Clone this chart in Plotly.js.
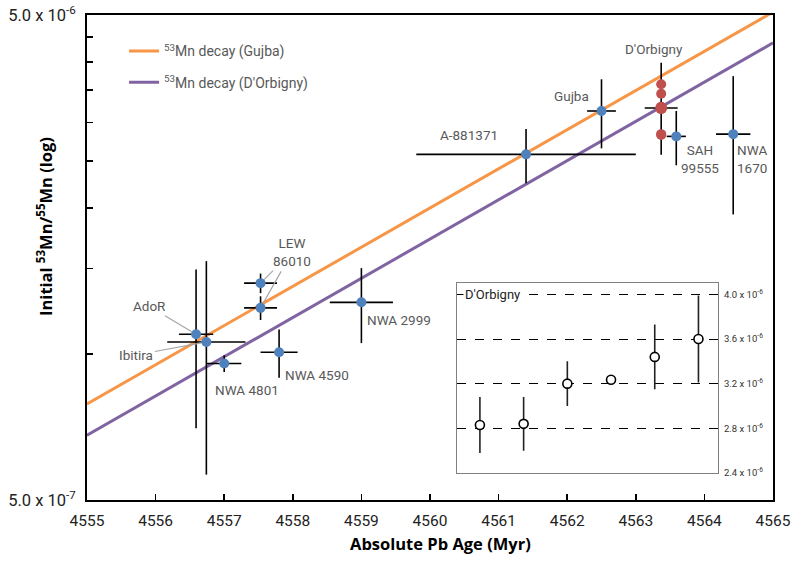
<!DOCTYPE html>
<html><head><meta charset="utf-8">
<script src="https://cdn.plot.ly/plotly-3.0.1.min.js"></script>
<style>html,body{margin:0;padding:0;background:#fff}#chart{width:800px;height:570px}</style>
</head><body><div id="chart"></div>
<script>
// ---- Decay lines (two end points; exponential = straight on a log axis)
const lineAges = [4555, 4565];
const gujbaDecay = [7.89e-7, 5.07e-6];
const dorbDecay = [6.80e-7, 4.38e-6];

// ---- Meteorites (blue points)
const names = ["A-881371", "Gujba", "SAH 99555", "NWA 1670", "LEW 86010", "LEW 86010", "AdoR", "Ibitira", "NWA 4801", "NWA 4590", "NWA 2999"];
const ages = [4561.40, 4562.50, 4563.59, 4564.42, 4557.53, 4557.53, 4556.59, 4556.74, 4557.00, 4557.80, 4559.00];
const ageErr = [1.60, 0.21, 0.14, 0.25, 0.24, 0.24, 0.25, 0.57, 0.25, 0.27, 0.46];
const ratios = [2.58e-6, 3.17e-6, 2.81e-6, 2.84e-6, 1.40e-6, 1.245e-6, 1.098e-6, 1.059e-6, 9.56e-7, 1.008e-6, 1.278e-6];
const ratioErr = [3.3e-7, 5.15e-7, 3.6e-7, 9.0e-7, 6.5e-8, 7e-8, 3.95e-7, 4.95e-7, 3.8e-8, 1.15e-7, 2.25e-7];

// ---- D'Orbigny
const dorbAge = 4563.37;
const dorbAgeErr = 0.24;
const dorbMean = 3.215e-6;
const dorbMeanErrPlus = 7.7e-7;
const dorbMeanErrMinus = 6.4e-7;
const dorbSample = [1, 2, 3, 4, 5, 6];
const dorbRatios = [2.83e-6, 2.84e-6, 3.20e-6, 3.235e-6, 3.44e-6, 3.60e-6];
const dorbRatioErr = [2.5e-7, 2.4e-7, 2.0e-7, 0, 2.9e-7, 3.9e-7];

// ---- Ticks
const xTickVals = [4555, 4556, 4557, 4558, 4559, 4560, 4561, 4562, 4563, 4564, 4565];
const yTickVals = [5e-7, 5e-6];
const yTickText = ["5.0 x 10<sup>-7</sup>", "5.0 x 10<sup>-6</sup>"];
const yMinorTickVals = [1e-6, 1.5e-6, 2e-6, 2.5e-6, 3e-6, 3.5e-6, 4e-6, 4.5e-6];
const insetTickVals = [2.4e-6, 2.8e-6, 3.2e-6, 3.6e-6, 4.0e-6];
const insetTickText = ["2.4 x 10<sup>-6</sup>", "2.8 x 10<sup>-6</sup>", "3.2 x 10<sup>-6</sup>", "3.6 x 10<sup>-6</sup>", "4.0 x 10<sup>-6</sup>"];

// ---- Label placement (pixel offsets from the point)
const labelCfg = [
  {i: 0, text: "A-881371", dx: -57, dy: 19},
  {i: 1, text: "Gujba", dx: -30, dy: 15},
  {i: 2, text: "SAH<br>99555", dx: 24, dy: -23},
  {i: 3, text: "NWA<br>1670", dx: 19, dy: -25},
  {i: 8, text: "NWA 4801", dx: 23, dy: -27},
  {i: 9, text: "NWA 4590", dx: 38, dy: -23},
  {i: 10, text: "NWA 2999", dx: 38, dy: -18}
];
const arrowCfg = [
  {i: 4, text: "LEW<br>86010", ax: 31, ay: -31, visible: true},
  {i: 5, text: "LEW<br>86010", ax: 31, ay: -55, visible: false},
  {i: 6, text: "AdoR", ax: -47, ay: -28, visible: true},
  {i: 7, text: "Ibitira", ax: -70, ay: 13, visible: true}
];

const FONT = "Roboto, 'Open Sans', sans-serif";
const TFONT = "'Open Sans', Roboto, sans-serif";
const labelColor = "#595959";
const LBL = 13.5;
const errStyle = {thickness: 1.6, width: 0, color: "#000"};

const traces = [
  {x: lineAges, y: gujbaDecay, mode: "lines", name: "<sup>53</sup>Mn decay (Gujba)",
   line: {color: "#F79646", width: 3}, legendgroup: "a", xaxis: "x", yaxis: "y"},
  {x: lineAges, y: dorbDecay, mode: "lines", name: "<sup>53</sup>Mn decay (D'Orbigny)",
   line: {color: "#8064A2", width: 3}, legendgroup: "b", xaxis: "x", yaxis: "y"},
  {x: ages, y: ratios, mode: "markers", showlegend: false,
   marker: {color: "#4F81BD", size: 10},
   error_x: Object.assign({type: "data", array: ageErr, symmetric: true}, errStyle),
   error_y: Object.assign({type: "data", array: ratioErr, symmetric: true}, errStyle),
   xaxis: "x", yaxis: "y"},
  {x: [dorbAge], y: [dorbMean], mode: "markers", showlegend: false,
   marker: {color: "#C0504D", size: 12},
   error_x: Object.assign({type: "data", array: [dorbAgeErr], symmetric: true}, errStyle),
   error_y: Object.assign({type: "data", array: [dorbMeanErrPlus], arrayminus: [dorbMeanErrMinus], symmetric: false}, errStyle),
   xaxis: "x", yaxis: "y"},
  {x: dorbRatios.map(() => dorbAge), y: dorbRatios, mode: "markers", showlegend: false,
   marker: {color: "#C0504D", size: 10}, xaxis: "x", yaxis: "y"},
  {x: dorbSample, y: dorbRatios, mode: "markers", showlegend: false,
   marker: {color: "#fff", size: 9, line: {color: "#000", width: 1.6}},
   error_y: Object.assign({type: "data", array: dorbRatioErr, symmetric: true}, {thickness: 1.6, width: 0, color: "#222"}),
   xaxis: "x2", yaxis: "y2"}
];

const annotations = [];
labelCfg.forEach(c => {
  annotations.push({x: ages[c.i], y: Math.log10(ratios[c.i]), xref: "x", yref: "y", text: c.text,
    showarrow: false, xshift: c.dx, yshift: c.dy, font: {family: FONT, size: LBL, color: labelColor}});
});
arrowCfg.forEach(c => {
  annotations.push({x: ages[c.i], y: Math.log10(ratios[c.i]), xref: "x", yref: "y", text: c.text,
    showarrow: true, arrowhead: 0, arrowwidth: 1.2, arrowcolor: "#a6a6a6", standoff: 5,
    ax: c.ax, ay: c.ay,
    font: {family: FONT, size: LBL, color: c.visible ? labelColor : "rgba(0,0,0,0)"}});
});
annotations.push({x: dorbAge, y: Math.log10(dorbMean), xref: "x", yref: "y", text: "D'Orbigny",
  showarrow: false, xshift: -7, yshift: 59, font: {family: FONT, size: LBL, color: labelColor}});
annotations.push({x: 0.025, xref: "x2 domain", y: insetTickVals[4], yref: "y2", text: "D'Orbigny",
  showarrow: false, xanchor: "left", yanchor: "middle", bgcolor: "#fff",
  font: {family: FONT, size: 13, color: "#222"}});
annotations.push({x: -0.0612, xref: "paper", y: 0.563, yref: "paper", textangle: -90,
  xanchor: "center", yanchor: "middle",
  text: "<b>Initial <sup>53</sup>Mn/<sup>55</sup>Mn (log)</b>", showarrow: false,
  font: {family: TFONT, size: 16.5, color: "#000"}});
annotations.push({x: 0.5146, xref: "paper", y: -0.0907, yref: "paper", xanchor: "center", yanchor: "middle",
  text: "<b>Absolute Pb Age (Myr)</b>", showarrow: false,
  font: {family: TFONT, size: 16.5, color: "#000"}});

const layout = {
  width: 800, height: 570,
  margin: {l: 87, r: 27, t: 15, b: 70},
  paper_bgcolor: "#fff", plot_bgcolor: "#fff",
  font: {family: FONT, color: "#222"},
  showlegend: true,
  legend: {x: 0.054, y: 0.958, xanchor: "left", yanchor: "top", bgcolor: "rgba(0,0,0,0)",
    font: {family: FONT, size: 14, color: labelColor}, traceorder: "grouped", tracegroupgap: 10,
    itemwidth: 30},
  xaxis: {range: [4555, 4565], tickvals: xTickVals, ticks: "inside", ticklen: 6, tickwidth: 1.5,
    tickcolor: "#000", showline: true, linecolor: "#000", linewidth: 2, mirror: true,
    showgrid: false, zeroline: false, tickfont: {family: FONT, size: 15.5, color: "#222"},
    ticklabelstandoff: 5},
  yaxis: {type: "log", range: [Math.log10(5e-7), Math.log10(5e-6)], tickvals: yTickVals, ticktext: yTickText,
    ticks: "inside", ticklen: 6, tickwidth: 1.5, tickcolor: "#000", showline: true, linecolor: "#000",
    linewidth: 2, mirror: true, showgrid: false, zeroline: false,
    minor: {tickmode: "array", tickvals: yMinorTickVals, ticks: "inside", ticklen: 6, tickwidth: 1.5, tickcolor: "#000", showgrid: false},
    tickfont: {family: FONT, size: 16.5, color: "#222"}, ticklabelstandoff: 6},
  xaxis2: {domain: [0.539, 0.920], anchor: "y2", range: [0.47, 6.45], showticklabels: false, ticks: "",
    showline: true, mirror: true, linecolor: "#808080", linewidth: 1, showgrid: false, zeroline: false},
  yaxis2: {domain: [0.0557, 0.447], anchor: "x2", range: [2.4e-6, 4.1e-6], tickvals: insetTickVals,
    ticktext: insetTickText, side: "right", ticks: "", showgrid: true, gridcolor: "#000", griddash: "dash",
    gridwidth: 1, showline: true, mirror: true, linecolor: "#808080", linewidth: 1, zeroline: false,
    tickfont: {family: FONT, size: 9.5, color: "#333"}, ticklabelstandoff: 3},
  annotations: annotations
};

Plotly.newPlot("chart", traces, layout, {staticPlot: true, displayModeBar: false});
</script>
</body></html>
